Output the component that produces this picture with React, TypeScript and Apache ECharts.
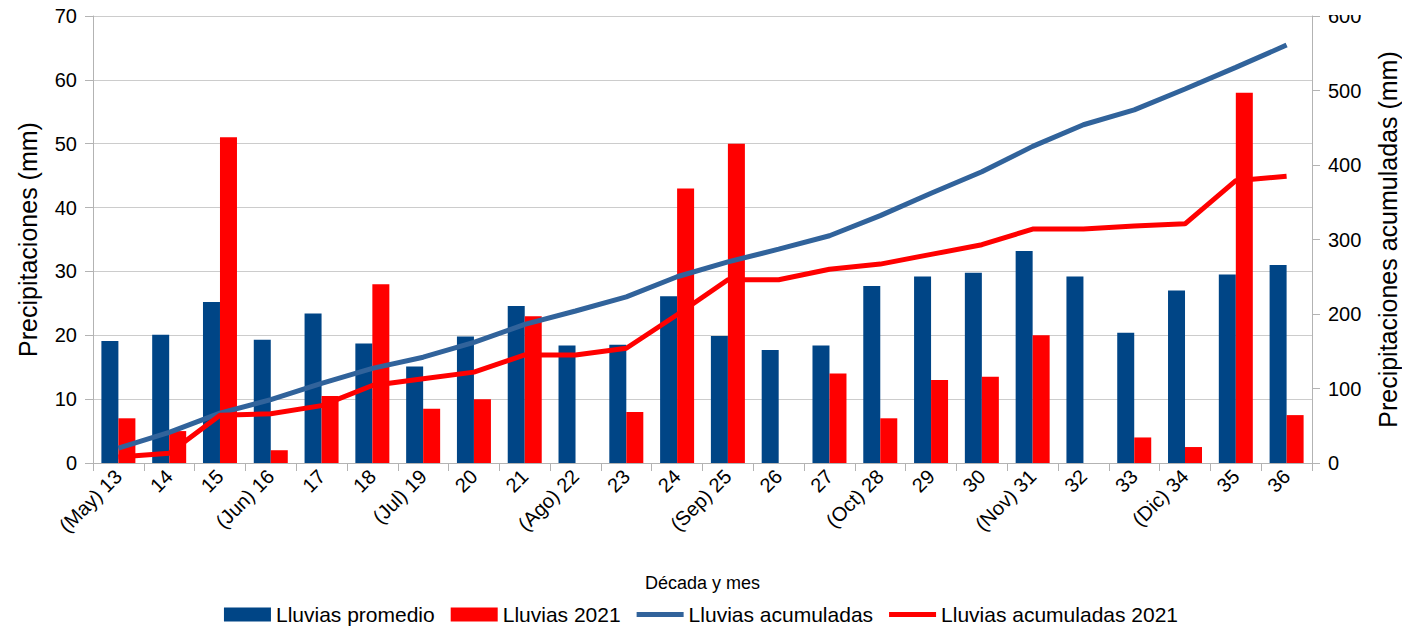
import React, { useEffect, useRef } from "react";
import * as echarts from "echarts";

const categories = [
  "(May) 13", "14", "15", "(Jun) 16", "17", "18", "(Jul) 19", "20", "21",
  "(Ago) 22", "23", "24", "(Sep) 25", "26", "27", "(Oct) 28", "29", "30",
  "(Nov) 31", "32", "33", "(Dic) 34", "35", "36",
];
const lluviasPromedio = [
  19.1, 20.1, 25.2, 19.3, 23.4, 18.7, 15.1, 19.8, 24.6, 18.4, 18.5, 26.1,
  19.9, 17.7, 18.4, 27.7, 29.2, 29.8, 33.2, 29.2, 20.4, 27.0, 29.5, 31.0,
];
const lluvias2021 = [
  7, 5, 51, 2, 10.5, 28, 8.5, 10, 23, 0, 8, 43, 50, 0, 14, 7, 13, 13.5, 20, 0,
  4, 2.5, 58, 7.5,
];
const lluviasAcumuladas = [
  20, 41, 67, 85, 107, 127, 142, 162, 186, 204, 223, 250, 270, 287, 305, 332,
  362, 391, 425, 454, 474, 502, 531, 561,
];
const lluviasAcumuladas2021 = [
  8, 13, 64, 66, 77, 104, 113, 122, 145, 145, 154, 199, 246, 246, 260, 267,
  280, 293, 314, 314, 318, 321, 379, 385,
];

const FONT = "'Liberation Sans', Arial, sans-serif";
const AXIS_GRAY = "#b3b3b3";
const GRID_GRAY = "#cccccc";
const BLUE_LINE = "#31639b";
const LINE_ICON = "path://M0,0H47V5H0Z";

export default function App() {
  const ref = useRef<HTMLDivElement>(null);
  useEffect(() => {
    if (!ref.current) return;
    const chart = echarts.init(ref.current, undefined, { renderer: "svg" });
    chart.setOption({
      animation: false,
      backgroundColor: "#ffffff",
      textStyle: { fontFamily: FONT, color: "#000" },
      grid: {
        left: 93,
        right: 90,
        top: 16,
        bottom: 163,
        containLabel: false,
        outerBoundsMode: "none",
      },
      legend: {
        bottom: -4,
        left: "center",
        itemWidth: 47,
        itemHeight: 14,
        itemGap: 16,
        symbolKeepAspect: true,
        textStyle: { fontFamily: FONT, fontSize: 21, color: "#000" },
        data: [
          { name: "Lluvias promedio", icon: "rect" },
          { name: "Lluvias 2021", icon: "rect" },
          { name: "Lluvias acumuladas", icon: LINE_ICON },
          { name: "Lluvias acumuladas 2021", icon: LINE_ICON },
        ],
      },
      xAxis: {
        type: "category",
        data: categories,
        boundaryGap: true,
        name: "Década y mes",
        nameLocation: "middle",
        nameGap: 111,
        nameTextStyle: { fontFamily: FONT, fontSize: 18, color: "#000" },
        axisLine: { lineStyle: { color: AXIS_GRAY, width: 1 } },
        axisTick: { show: true, length: 8, alignWithLabel: false, lineStyle: { color: AXIS_GRAY } },
        axisLabel: { rotate: 45, fontSize: 20, color: "#000", margin: 10, interval: 0, fontFamily: FONT },
        splitLine: { show: false },
      },
      yAxis: [
        {
          type: "value",
          min: 0,
          max: 70,
          interval: 10,
          name: "Precipitaciones (mm)",
          nameLocation: "middle",
          nameRotate: 90,
          nameGap: 53,
          nameTextStyle: { fontFamily: FONT, fontSize: 25, color: "#000" },
          axisLine: { show: true, lineStyle: { color: AXIS_GRAY } },
          axisTick: { show: true, length: 8, lineStyle: { color: AXIS_GRAY } },
          axisLabel: { fontSize: 20, color: "#000", margin: 16, fontFamily: FONT },
          splitLine: { show: true, lineStyle: { color: GRID_GRAY, width: 1 } },
        },
        {
          type: "value",
          min: 0,
          max: 600,
          interval: 100,
          position: "right",
          name: "Precipitaciones acumuladas (mm)",
          nameLocation: "middle",
          nameRotate: 90,
          nameGap: 63,
          nameTextStyle: { fontFamily: FONT, fontSize: 25, color: "#000" },
          axisLine: { show: true, lineStyle: { color: AXIS_GRAY } },
          axisTick: { show: true, length: 8, lineStyle: { color: AXIS_GRAY } },
          axisLabel: { fontSize: 20, color: "#000", margin: 16, fontFamily: FONT },
          splitLine: { show: false },
        },
      ],
      graphic: [
        {
          type: "rect",
          shape: { x: 1316, y: 0, width: 86, height: 15 },
          style: { fill: "#ffffff" },
          z: 100,
          zlevel: 0,
        },
      ],
      series: [
        {
          name: "Lluvias promedio",
          type: "bar",
          data: lluviasPromedio,
          barWidth: 17,
          barGap: "0%",
          itemStyle: { color: "#004586" },
          z: 2,
        },
        {
          name: "Lluvias 2021",
          type: "bar",
          data: lluvias2021,
          barWidth: 17,
          barGap: "0%",
          itemStyle: { color: "#ff0000" },
          z: 2,
        },
        {
          name: "Lluvias acumuladas",
          type: "line",
          yAxisIndex: 1,
          data: lluviasAcumuladas,
          symbol: "none",
          lineStyle: { color: BLUE_LINE, width: 5 },
          itemStyle: { color: BLUE_LINE },
          z: 3,
        },
        {
          name: "Lluvias acumuladas 2021",
          type: "line",
          yAxisIndex: 1,
          data: lluviasAcumuladas2021,
          symbol: "none",
          lineStyle: { color: "#ff0000", width: 5 },
          itemStyle: { color: "#ff0000" },
          z: 3,
        },
      ],
    });
    return () => chart.dispose();
  }, []);
  return (
    <div
      ref={ref}
      style={{ position: "absolute", left: 0, top: 0, width: 1402, height: 626 }}
    />
  );
}
